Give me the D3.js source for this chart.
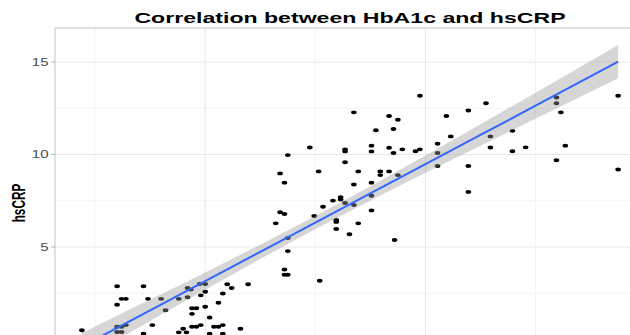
<!DOCTYPE html>
<html>
<head>
<meta charset="utf-8">
<script src="https://d3js.org/d3.v7.min.js"></script>
<style>
    body { margin: 0; background: #ffffff; }
    svg { display: block; }
    text { font-family: "Liberation Sans", Arial, sans-serif; }
</style>
</head>
<body>
<svg id="canvas" width="630" height="335"></svg>
<script>
/** Data: HbA1c (x) and hsCRP (y) of each patient */
const hba1c = [
    4.88, 5.20, 5.44, 5.20, 5.24, 5.28, 5.48, 5.60, 5.64, 5.20, 5.24, 5.28, 5.20, 5.24, 5.52, 5.44,
    5.76, 5.84, 5.87, 5.84, 5.95, 6.00, 6.00, 5.96, 5.88, 5.92, 5.88, 6.00, 6.04, 6.12, 6.16, 6.20,
    6.24, 6.39, 5.76, 5.80, 5.83, 5.88, 5.92, 5.96, 6.04, 6.08, 6.12, 6.16, 6.16, 6.32,
    6.64, 6.68, 6.72, 6.75, 6.75, 6.72, 6.72, 6.75, 6.68, 6.72, 6.75, 6.95, 7.03, 6.99, 7.04, 7.07,
    7.16, 7.23, 7.23, 7.27, 7.35, 7.19, 7.19, 7.19, 7.31, 7.39, 7.51, 7.51, 7.51, 7.35, 7.39, 7.27,
    7.27, 7.27, 7.35, 7.51, 7.51, 7.55, 7.59, 7.59, 7.67, 7.67, 7.75, 7.71, 7.67, 7.71, 7.79, 7.75,
    7.72, 7.91, 7.95, 7.95, 8.11, 8.11, 8.11, 8.19, 8.23, 8.39, 8.39, 8.39, 8.55, 8.59, 8.59, 8.79,
    8.79, 8.91, 9.19, 9.19, 9.23, 9.27, 9.19, 9.75, 9.75
];
const hscrp = [
    0.50, 2.88, 2.88, 1.88, 2.20, 2.20, 2.20, 2.20, 1.58, 0.69, 0.69, 0.78, 0.41, 0.41, 0.78, 0.32,
    2.20, 2.79, 2.70, 2.29, 3.00, 3.00, 2.58, 2.39, 1.69, 1.69, 1.39, 1.77, 1.19, 1.99, 2.49, 2.99,
    2.79, 2.99, 0.39, 0.58, 0.39, 0.69, 0.69, 0.78, 0.32, 0.69, 0.69, 0.78, 0.32, 0.58,
    6.28, 6.88, 6.79, 5.49, 4.78, 3.79, 3.50, 3.50, 8.98, 8.48, 9.97, 10.38, 9.09, 6.68, 3.18, 7.18,
    7.51, 7.69, 7.57, 7.38, 7.27, 6.47, 6.36, 5.98, 5.69, 6.28, 6.98, 7.77, 8.48, 8.38, 9.09, 9.58,
    10.28, 10.17, 12.28, 10.48, 10.17, 11.31, 9.09, 8.89, 9.09, 12.08, 11.88, 11.38, 10.37, 10.08, 10.28, 8.89,
    5.38, 10.18, 10.28, 13.18, 10.58, 10.08, 9.38, 12.08, 10.98, 12.38, 9.38, 7.98, 12.77, 10.98, 10.38, 11.28,
    10.18, 10.39, 13.08, 12.77, 12.28, 10.48, 9.69, 13.18, 9.19
];

/** Linear fit (geom_smooth): x, fitted value, 95% CI half width */
const fitX = [4.88, 5.5, 6.0, 6.5, 7.0, 7.5, 8.0, 8.5, 9.0, 9.75];
const fitY = [-0.38, 1.58, 3.16, 4.74, 6.32, 7.90, 9.48, 11.06, 12.64, 15.02];
const fitCi = [0.73, 0.58, 0.47, 0.39, 0.36, 0.39, 0.47, 0.58, 0.70, 0.90];

/** Axis limits and ticks */
const xLimits = [4.636, 9.994];
const yLimits = [-1.9, 16.84];
const xMajor = [6, 8, 10];
const xMinor = [5, 7, 9];
const yMajor = [0, 5, 10, 15];
const yMinor = [2.5, 7.5, 12.5];

const chartTitle = 'Correlation between HbA1c and hsCRP';
const yTitle = 'hsCRP';

/** The reference picture is stretched sideways */
const stretch = 1.5;

let canvas = d3.select('#canvas');

/** Panel box (bottom and right run past the cropped picture) */
const panel = { left: 55, top: 28, right: 645, bottom: 374.7 };

let xScale = d3.scaleLinear().domain(xLimits).range([panel.left, panel.right]);
let yScale = d3.scaleLinear().domain(yLimits).range([panel.bottom, panel.top]);

const drawChart = () => {
    canvas.append('defs').append('clipPath')
        .attr('id', 'panel-clip')
        .append('rect')
        .attr('x', panel.left)
        .attr('y', panel.top)
        .attr('width', panel.right - panel.left)
        .attr('height', panel.bottom - panel.top);

    /** Grid lines, minor first */
    let grid = canvas.append('g').attr('clip-path', 'url(#panel-clip)');

    grid.selectAll('.vminor').data(xMinor).enter().append('line')
        .attr('x1', (d) => xScale(d)).attr('x2', (d) => xScale(d))
        .attr('y1', panel.top).attr('y2', panel.bottom)
        .attr('stroke', '#f3f3f3').attr('stroke-width', 1);

    grid.selectAll('.hminor').data(yMinor).enter().append('line')
        .attr('x1', panel.left).attr('x2', panel.right)
        .attr('y1', (d) => yScale(d)).attr('y2', (d) => yScale(d))
        .attr('stroke', '#f3f3f3').attr('stroke-width', 1);

    grid.selectAll('.vmajor').data(xMajor).enter().append('line')
        .attr('x1', (d) => xScale(d)).attr('x2', (d) => xScale(d))
        .attr('y1', panel.top).attr('y2', panel.bottom)
        .attr('stroke', '#e8e8e8').attr('stroke-width', 1);

    grid.selectAll('.hmajor').data(yMajor).enter().append('line')
        .attr('x1', panel.left).attr('x2', panel.right)
        .attr('y1', (d) => yScale(d)).attr('y2', (d) => yScale(d))
        .attr('stroke', '#e8e8e8').attr('stroke-width', 1);

    /** Points */
    let plot = canvas.append('g').attr('clip-path', 'url(#panel-clip)');

    plot.selectAll('ellipse')
        .data(d3.zip(hba1c, hscrp))
        .enter()
        .append('ellipse')
        .attr('cx', (d) => xScale(d[0]))
        .attr('cy', (d) => yScale(d[1]))
        .attr('rx', 2.8)
        .attr('ry', 1.95)
        .attr('fill', '#000000');

    /** Confidence ribbon and fitted line */
    let fit = d3.range(fitX.length);

    let ribbon = d3.area()
        .x((i) => xScale(fitX[i]))
        .y0((i) => yScale(fitY[i] - fitCi[i]))
        .y1((i) => yScale(fitY[i] + fitCi[i]))
        .curve(d3.curveMonotoneX);

    plot.append('path')
        .datum(fit)
        .attr('d', ribbon)
        .attr('fill', '#999999')
        .attr('fill-opacity', 0.4);

    let line = d3.line()
        .x((i) => xScale(fitX[i]))
        .y((i) => yScale(fitY[i]));

    plot.append('path')
        .datum(fit)
        .attr('d', line)
        .attr('fill', 'none')
        .attr('stroke', '#3366FF')
        .attr('stroke-width', 2);

    /** Panel border */
    canvas.append('rect')
        .attr('x', panel.left)
        .attr('y', panel.top)
        .attr('width', panel.right - panel.left)
        .attr('height', panel.bottom - panel.top)
        .attr('fill', 'none')
        .attr('stroke', '#c4c4c4')
        .attr('stroke-width', 1);

    /** Y axis ticks and labels (the 0 label lies below the cropped edge) */
    let yAxis = canvas.append('g');

    yAxis.selectAll('line').data(yMajor).enter().append('line')
        .attr('x1', panel.left - 4).attr('x2', panel.left)
        .attr('y1', (d) => yScale(d)).attr('y2', (d) => yScale(d))
        .attr('stroke', '#b3b3b3').attr('stroke-width', 1);

    yAxis.selectAll('g').data(yMajor.filter((d) => yScale(d) < 330)).enter().append('g')
        .attr('transform', (d) => `translate(${panel.left - 6.5},${yScale(d)}) scale(${stretch},1)`)
        .append('text')
        .attr('text-anchor', 'end')
        .attr('dy', '0.35em')
        .attr('font-size', 10)
        .attr('fill', '#4d4d4d')
        .text((d) => d);

    /** Axis title */
    canvas.append('g')
        .attr('transform', `translate(25,203) scale(${stretch},1) rotate(-90)`)
        .append('text')
        .attr('text-anchor', 'middle')
        .attr('font-size', 11.8)
        .attr('font-weight', 'bold')
        .attr('fill', '#000000')
        .text(yTitle);

    /** Chart title */
    canvas.append('g')
        .attr('transform', `translate(350,23.3) scale(${stretch},1)`)
        .append('text')
        .attr('text-anchor', 'middle')
        .attr('font-size', 15.4)
        .attr('font-weight', 'bold')
        .attr('fill', '#000000')
        .text(chartTitle);
};

drawChart();
</script>
</body>
</html>
